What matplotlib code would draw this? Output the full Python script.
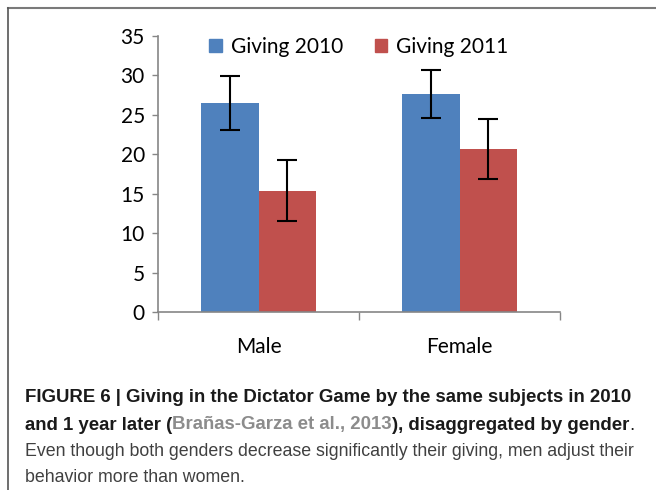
import matplotlib
matplotlib.use('Agg')
import matplotlib.pyplot as plt
from matplotlib import font_manager
from matplotlib.patches import Patch
import numpy as np

# data
genders = ['Male', 'Female']
giving_2010 = [26.5, 27.6]
giving_2010_err = [3.4, 3.0]
giving_2011 = [15.4, 20.7]
giving_2011_err = [3.9, 3.8]
legend_labels = ['Giving 2010', 'Giving 2011']
y_ticks = [0, 5, 10, 15, 20, 25, 30, 35]

blue = '#4F81BD'
red = '#C0504D'

def pick(names):
    for n in names:
        try:
            font_manager.findfont(n, fallback_to_default=False)
            return n
        except Exception:
            pass
    return 'DejaVu Sans'

chart_font = pick(['Lato', 'Open Sans', 'DejaVu Sans'])
cap_font = pick(['Liberation Sans Narrow', 'Liberation Sans', 'DejaVu Sans'])

W, H = 656, 490
fig = plt.figure(figsize=(W / 100, H / 100), dpi=100)

# frame around the figure (runs off right and bottom)
fig.add_artist(plt.Line2D([8 / W, 1], [1 - 8 / H, 1 - 8 / H], color='#7a7a7a', lw=1.5))
fig.add_artist(plt.Line2D([8 / W, 8 / W], [0, 1 - 8 / H], color='#555555', lw=1.2))

ax = fig.add_axes([158 / W, 1 - 312.3 / H, (560 - 158) / W, (312.3 - 35.7) / H])

x = np.arange(len(genders))
w = 0.285
ekw = dict(ecolor='black', elinewidth=1.5, capsize=7.5, capthick=1.5)
ax.bar(x - w / 2, giving_2010, w, color=blue, yerr=giving_2010_err, error_kw=ekw, zorder=2)
ax.bar(x + w / 2, giving_2011, w, color=red, yerr=giving_2011_err, error_kw=ekw, zorder=2)

ax.set_xlim(-0.5, 1.5)
ax.set_ylim(0, 35)
ax.set_yticks(y_ticks)
ax.set_yticklabels([str(t) for t in y_ticks], fontsize=15, family=chart_font)
ax.set_xticks(x)
ax.set_xticklabels(genders, fontsize=15, family=chart_font)
ax.set_xticks([-0.5, 0.5, 1.5], minor=True)
ax.tick_params(axis='x', which='major', length=0, pad=18)
ax.tick_params(axis='x', which='minor', length=6, width=1, color='#868686', direction='out')
ax.tick_params(axis='y', length=4.5, width=1, color='#868686', pad=5)
for s in ['top', 'right']:
    ax.spines[s].set_visible(False)
for s in ['left', 'bottom']:
    ax.spines[s].set_color('#868686')
    ax.spines[s].set_linewidth(1.2)

handles = [Patch(color=blue), Patch(color=red)]
ax.legend(handles, legend_labels, loc='center', bbox_to_anchor=(0.5, 1 - (47 - 35.7) / (312.3 - 35.7)),
          ncol=2, frameon=False, handlelength=0.6, handleheight=0.6, handletextpad=0.45,
          columnspacing=1.5, prop={'family': chart_font, 'size': 15})

# caption
fig.canvas.draw()
renderer = fig.canvas.get_renderer()

line1 = 'FIGURE 6 | Giving in the Dictator Game by the same subjects in 2010'
line3 = 'Even though both genders decrease significantly their giving, men adjust their'
line4 = 'behavior more than women.'

def fit_size(txt, weight, target):
    probe = fig.text(0, 0, txt, fontsize=12, weight=weight, family=cap_font)
    pw = probe.get_window_extent(renderer).width
    probe.remove()
    return min(13.5, 12 * target / pw)

fs_b = fit_size(line1, 'bold', 605)
fs_n = fit_size(line3, 'normal', 612)

x0 = 25 / W
ys = [397, 425, 451, 477]

fig.text(x0, 1 - ys[0] / H, line1, fontsize=fs_b, weight='bold', family=cap_font,
         color='#1a1a1a', va='center')

pieces = [('and 1 year later (', 'bold', '#1a1a1a'),
          ('Brañas-Garza et al., 2013', 'bold', '#8c8c8c'),
          ('), disaggregated by gender', 'bold', '#1a1a1a'),
          ('.', 'normal', '#1a1a1a')]
cx = 25
for txt, wt, col in pieces:
    t = fig.text(cx / W, 1 - ys[1] / H, txt, fontsize=fs_b, weight=wt, family=cap_font,
                 color=col, va='center')
    cx = t.get_window_extent(renderer).x1

fig.text(x0, 1 - ys[2] / H, line3, fontsize=fs_n, family=cap_font, color='#404040', va='center')
fig.text(x0, 1 - ys[3] / H, line4, fontsize=fs_n, family=cap_font, color='#404040', va='center')

fig.savefig('out.png', dpi=100)
